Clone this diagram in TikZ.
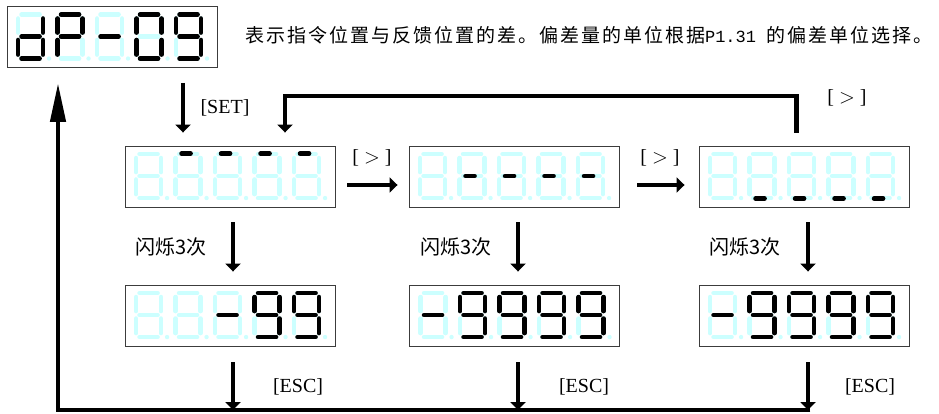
\documentclass[tikz,border=0pt]{standalone}
\usepackage{fontspec}
\setmainfont{Liberation Serif}
\newfontfamily\cjk{Noto Sans CJK SC}
\newfontfamily\cjkls[LetterSpace=10.5]{Noto Sans CJK SC}
\newfontfamily\monof{Liberation Mono}
\usetikzlibrary{arrows.meta,calc}
\definecolor{segcyan}{RGB}{204,255,255}
\definecolor{boxgray}{RGB}{60,60,60}
\tikzset{
  disp/.style={draw=boxgray, line width=0.9pt, minimum width=210pt, minimum height=61pt, inner sep=0pt},
  segoff/.style={draw=segcyan, line width=4.6pt, line cap=round},
  segon/.style={draw=black, line width=4.6pt, line cap=round},
  flow/.style={line width=4.5pt},
  arr/.style={flow, -{Triangle[length=8pt,width=15pt]}},
  lab/.style={font=\fontsize{20}{20}\selectfont, inner sep=0pt},
  cn/.style={font=\cjk\fontsize{20}{20}\selectfont, inner sep=0pt},
}
% segment paths (digit origin = top-left, y downwards)
\def\sega{(6,8.5)--(24,8.5)}
\def\segb{(27.5,12.5)--(27.5,26.5)}
\def\segc{(27.5,34)--(27.5,48.5)}
\def\segd{(6,52.5)--(24,52.5)}
\def\sege{(2.5,34)--(2.5,48.5)}
\def\segf{(2.5,12.5)--(2.5,26.5)}
\def\segg{(6,30.5)--(24,30.5)}
\def\segA{(8.5,8)--(17.5,8)}
\def\segG{(8.5,30.5)--(17.5,30.5)}
\def\segD{(8.5,53)--(17.5,53)}
\def\segn{}
\newcommand\digitat[2]{%
  \begin{scope}[xshift=#1pt]
    \foreach \s in {a,b,c,d,e,f,g} {\draw[segoff] \csname seg\s\endcsname;}
    \fill[segcyan] (33.5,52.5) circle (2.2);
    \foreach \s in {#2} {\draw[segon] \csname seg\s\endcsname;}
  \end{scope}}
\newcommand\showdigits[6]{%
  \begin{scope}[shift={(#1.north west)}]
    \digitat{9}{#2}\digitat{48.5}{#3}\digitat{88}{#4}\digitat{127.5}{#5}\digitat{167}{#6}
  \end{scope}}
\begin{document}
\begin{tikzpicture}[x=1pt, y=-1pt]
  \useasboundingbox (0,0) rectangle (939,414);
  % displays
  \node[disp] (top) at (112,37) {};
  \node[disp] (r1a) at (230,176.5) {};
  \node[disp] (r1b) at (514,176.5) {};
  \node[disp] (r1c) at (804,176.5) {};
  \node[disp] (r2a) at (230,315.5) {};
  \node[disp] (r2b) at (514.5,315.5) {};
  \node[disp] (r2c) at (804,315.5) {};
  \showdigits{top}{b,c,d,e,g}{a,b,e,f,g}{g}{a,b,c,d,e,f}{a,b,c,d,f,g}
  \showdigits{r1a}{n}{A}{A}{A}{A}
  \showdigits{r1b}{n}{G}{G}{G}{G}
  \showdigits{r1c}{n}{D}{D}{D}{D}
  \showdigits{r2a}{n}{n}{g}{a,b,c,d,f,g}{a,b,c,d,f,g}
  \showdigits{r2b}{g}{a,b,c,d,f,g}{a,b,c,d,f,g}{a,b,c,d,f,g}{a,b,c,d,f,g}
  \showdigits{r2c}{g}{a,b,c,d,f,g}{a,b,c,d,f,g}{a,b,c,d,f,g}{a,b,c,d,f,g}
  % description
  \node[anchor=west, inner sep=0pt, font=\cjkls\fontsize{19}{19}\selectfont] (desc) at (245,35)
    {表示指令位置与反馈位置的差。偏差量的单位根据{\monof\fontsize{17}{17}\selectfont P1.31 }的偏差单位选择。};
  % reference coordinates
  \coordinate (setx) at (183,0);
  \coordinate (x1) at (233,0);
  \coordinate (x2) at (518,0);
  \coordinate (x3) at (808,0);
  \coordinate (fb) at (285,96);
  \coordinate (bl) at (58,410);
  % SET arrow
  \draw[arr] ($(top.south -| setx)+(0,15)$) -- ($(r1a.north -| setx)+(0,-13)$);
  \node[lab] (lset) at (225,108) {[SET]};
  % feedback loop
  \draw[arr] ($(r1c.north west)+(98,-13)$) |- (fb) -- ($(r1a.north -| fb)+(0,-13)$);
  \node[lab] (lfb) at (847,98) {[ $>$ ]};
  % horizontal arrows
  \draw[arr] ($(r1a.east)+(12,8.5)$) -- ($(r1b.west)+(-11,8.5)$);
  \node[lab] (lh1) at (372,158) {[ $>$ ]};
  \draw[arr] ($(r1b.east)+(18,8.5)$) -- ($(r1c.west)+(-14,8.5)$);
  \node[lab] (lh2) at (660,158) {[ $>$ ]};
  % down arrows
  \draw[arr] ($(r1a.south -| x1)+(0,15)$) -- ($(r2a.north -| x1)+(0,-13)$);
  \draw[arr] ($(r1b.south -| x2)+(0,15)$) -- ($(r2b.north -| x2)+(0,-13)$);
  \draw[arr] ($(r1c.south -| x3)+(0,15)$) -- ($(r2c.north -| x3)+(0,-13)$);
  \node[cn] (lb1) at (171,247) {闪烁3次};
  \node[cn] (lb2) at (456,247) {闪烁3次};
  \node[cn] (lb3) at (745,247) {闪烁3次};
  % ESC arrows
  \draw[arr] ($(r2a.south -| x1)+(0,16)$) -- (x1 |- bl);
  \draw[arr] ($(r2b.south -| x2)+(0,16)$) -- (x2 |- bl);
  \draw[arr] ($(r2c.south -| x3)+(0,16)$) -- (x3 |- bl);
  \node[lab] (le1) at (298,387) {[ESC]};
  \node[lab] (le2) at (584,387) {[ESC]};
  \node[lab] (le3) at (870,387) {[ESC]};
  % return line
  \draw[flow, -{Triangle[length=39pt,width=15pt]}] ($(x3 |- bl)+(2.25,0)$) -- (bl) -- ($(top.south -| bl)+(0,15)$);
\end{tikzpicture}
\end{document}
